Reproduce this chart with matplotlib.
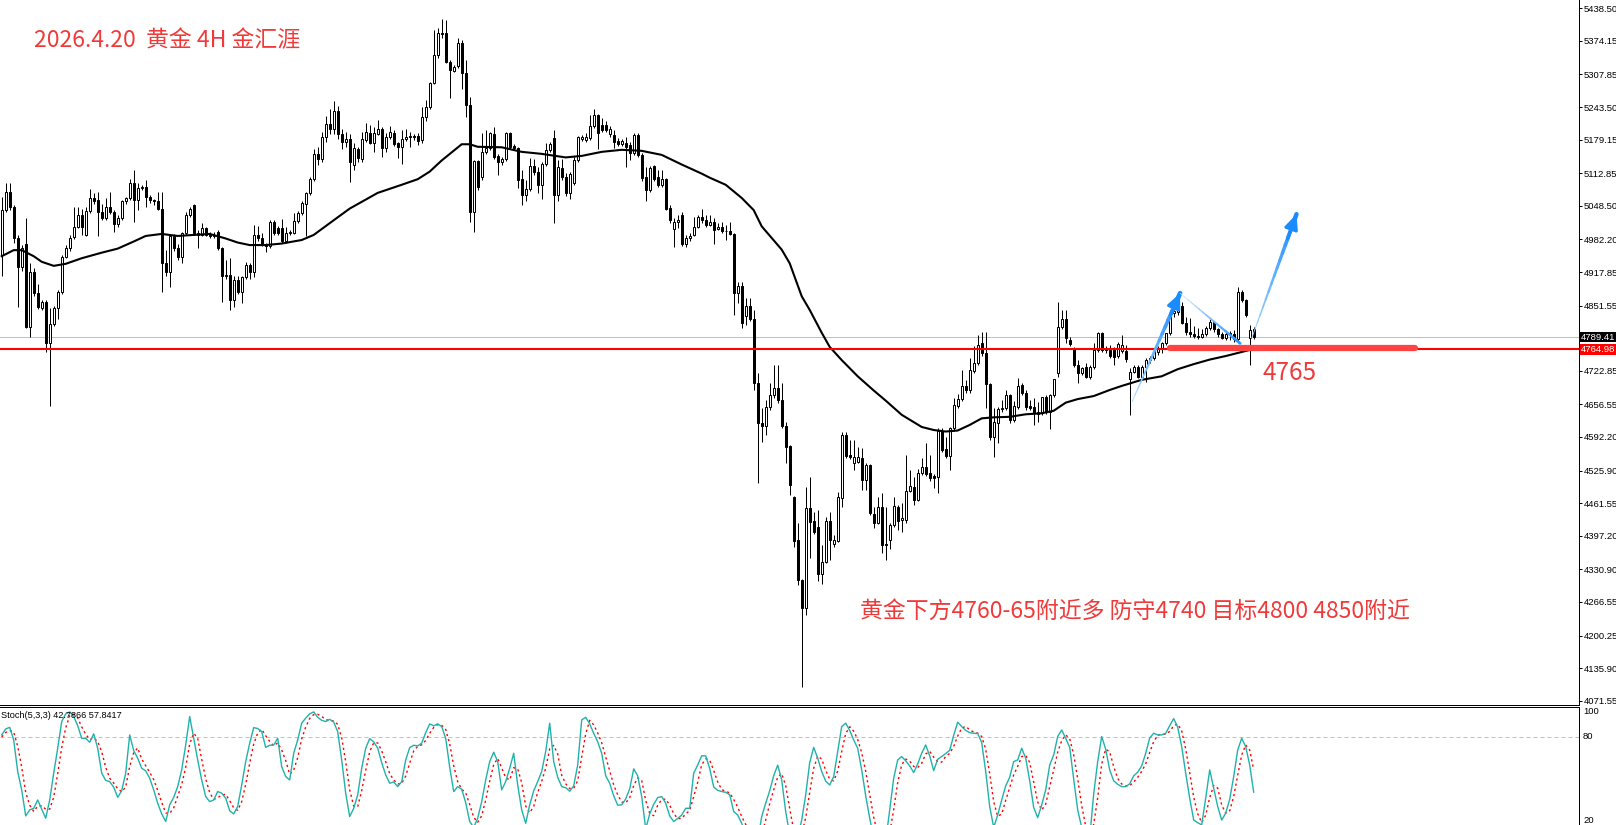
#! /usr/bin/env python3

import matplotlib
matplotlib.use("Agg")
import matplotlib.pyplot as plt
import matplotlib.transforms as mtransforms
from matplotlib.collections import LineCollection
from matplotlib.patches import Rectangle
import numpy as np

# 4H gold candles, oldest first (index = bar number)
opens = [
  4951, 5040, 5076, 5047, 4984, 4928, 4974, 4810, 4918, 4876,
  4846, 4859, 4777, 4816, 4846, 4879, 4948, 4965, 4986, 5006,
  5030, 4991, 5038, 5063, 5060, 5037, 5024, 5047, 5037, 5012,
  5024, 5057, 5063, 5093, 5060, 5083, 5085, 5066, 5060, 5057,
  5043, 4935, 4918, 4988, 4965, 4948, 4994, 5030, 5050, 4994,
  4991, 5004, 4991, 4988, 4997, 4966, 4909, 4912, 4862, 4902,
  4879, 4907, 4931, 4918, 4991, 4984, 4974, 4970, 5017, 5005,
  5005, 4980, 4995, 4995, 5019, 5034, 5053, 5073, 5102, 5150,
  5140, 5185, 5210, 5200, 5235, 5190, 5175, 5180, 5129, 5160,
  5140, 5178, 5193, 5173, 5191, 5201, 5162, 5184, 5193, 5172,
  5165, 5180, 5184, 5185, 5186, 5178, 5223, 5244, 5290, 5346,
  5390, 5389, 5333, 5315, 5324, 5369, 5310, 5247, 5037, 5136,
  5106, 5155, 5162, 5190, 5147, 5134, 5140, 5193, 5166, 5162,
  5101, 5070, 5082, 5127, 5116, 5090, 5131, 5159, 5182, 5070,
  5124, 5106, 5073, 5094, 5139, 5180, 5178, 5182, 5206, 5228,
  5208, 5208, 5190, 5188, 5177, 5170, 5173, 5168, 5152, 5188,
  5149, 5105, 5080, 5127, 5105, 5090, 5101, 5045, 5002, 5017,
  5030, 4974, 4985, 4991, 5007, 5027, 5020, 5011, 5017, 5003,
  5006, 4998, 4999, 4993, 4877, 4890, 4831, 4851, 4826, 4698,
  4620, 4614, 4651, 4675, 4688, 4665, 4614, 4574, 4473, 4389,
  4310, 4254, 4453, 4427, 4414, 4322, 4346, 4427, 4381, 4387,
  4471, 4596, 4557, 4541, 4543, 4550, 4507, 4536, 4440, 4423,
  4455, 4380, 4389, 4419, 4455, 4428, 4428, 4486, 4494, 4468,
  4522, 4532, 4522, 4515, 4513, 4605, 4568, 4555, 4609, 4653,
  4667, 4693, 4684, 4723, 4738, 4777, 4757, 4697, 4593, 4620,
  4647, 4649, 4675, 4626, 4652, 4695, 4680, 4653, 4651, 4638,
  4639, 4671, 4642, 4675, 4719, 4810, 4826, 4784, 4767, 4734,
  4718, 4730, 4711, 4730, 4763, 4798, 4767, 4764, 4764, 4752,
  4761, 4761, 4706, 4721, 4730, 4711, 4730, 4744, 4748, 4759,
  4767, 4777, 4797, 4836, 4838, 4850, 4818, 4800, 4795, 4792,
  4790, 4795, 4808, 4820, 4805, 4795, 4788, 4795, 4795, 4786,
  4879, 4862, 4788, 4806]

highs = [
  5066, 5093, 5093, 5050, 4990, 4971, 5024, 4935, 4925, 4895,
  4862, 4863, 4846, 4850, 4882, 4952, 4971, 4990, 5047, 5047,
  5043, 5047, 5081, 5073, 5076, 5053, 5063, 5076, 5040, 5030,
  5060, 5066, 5101, 5119, 5093, 5090, 5099, 5070, 5062, 5076,
  5076, 4961, 4991, 4992, 4974, 4996, 5037, 5047, 5053, 5001,
  5015, 5007, 4997, 4996, 5000, 4968, 4941, 4945, 4909, 4909,
  4910, 4938, 4935, 5011, 5009, 4994, 4976, 5020, 5020, 5008,
  5022, 5006, 5000, 5034, 5038, 5058, 5076, 5106, 5160, 5165,
  5195, 5225, 5240, 5255, 5245, 5200, 5195, 5190, 5172, 5165,
  5195, 5211, 5208, 5205, 5218, 5205, 5193, 5206, 5198, 5175,
  5198, 5201, 5195, 5190, 5193, 5244, 5257, 5292, 5395, 5399,
  5418, 5416, 5336, 5326, 5379, 5376, 5336, 5264, 5139, 5139,
  5192, 5198, 5195, 5205, 5150, 5145, 5194, 5195, 5170, 5165,
  5119, 5099, 5142, 5140, 5126, 5134, 5172, 5175, 5198, 5139,
  5140, 5114, 5116, 5145, 5187, 5188, 5193, 5228, 5239, 5230,
  5221, 5215, 5206, 5198, 5182, 5181, 5185, 5175, 5192, 5192,
  5152, 5126, 5127, 5129, 5119, 5119, 5104, 5050, 5024, 5030,
  5037, 4990, 4995, 5027, 5030, 5043, 5030, 5030, 5024, 5014,
  5017, 5011, 5017, 4995, 4899, 4899, 4866, 4866, 4843, 4718,
  4649, 4665, 4698, 4734, 4734, 4698, 4622, 4576, 4475, 4422,
  4312, 4494, 4514, 4445, 4448, 4379, 4435, 4445, 4399, 4484,
  4603, 4603, 4586, 4586, 4573, 4570, 4540, 4538, 4455, 4474,
  4481, 4455, 4422, 4474, 4458, 4461, 4557, 4527, 4514, 4530,
  4550, 4580, 4557, 4520, 4609, 4609, 4593, 4611, 4669, 4678,
  4724, 4705, 4748, 4771, 4794, 4800, 4800, 4698, 4649, 4652,
  4665, 4685, 4678, 4664, 4708, 4699, 4685, 4665, 4669, 4662,
  4672, 4675, 4678, 4706, 4859, 4843, 4843, 4790, 4770, 4744,
  4731, 4738, 4734, 4777, 4800, 4800, 4772, 4774, 4770, 4780,
  4793, 4774, 4728, 4734, 4734, 4735, 4748, 4752, 4764, 4772,
  4780, 4798, 4843, 4845, 4866, 4858, 4830, 4827, 4812, 4808,
  4805, 4812, 4825, 4822, 4808, 4800, 4800, 4802, 4803, 4889,
  4882, 4865, 4813, 4810]

lows = [
  4909, 5037, 5040, 4975, 4849, 4920, 4807, 4790, 4870, 4845,
  4843, 4760, 4653, 4812, 4826, 4875, 4945, 4960, 4982, 5004,
  4991, 4988, 5035, 5053, 4988, 5020, 5020, 5033, 4997, 5007,
  5020, 5053, 5060, 5017, 5040, 5080, 5047, 5055, 5050, 5040,
  4879, 4909, 4889, 4960, 4942, 4935, 4991, 5027, 4990, 4965,
  4988, 4988, 4984, 4984, 4962, 4859, 4905, 4843, 4849, 4875,
  4856, 4904, 4905, 4908, 4980, 4970, 4958, 4966, 4990, 4990,
  4976, 4976, 4990, 4992, 5015, 5030, 4989, 5070, 5098, 5130,
  5135, 5175, 5190, 5190, 5180, 5160, 5165, 5095, 5119, 5135,
  5135, 5175, 5170, 5155, 5188, 5145, 5155, 5180, 5166, 5142,
  5131, 5176, 5165, 5178, 5168, 5172, 5215, 5240, 5288, 5340,
  5380, 5330, 5261, 5312, 5320, 5280, 5224, 5017, 4997, 5080,
  5100, 5150, 5158, 5140, 5109, 5130, 5137, 5160, 5158, 5083,
  5050, 5057, 5078, 5110, 5073, 5061, 5128, 5155, 5014, 5057,
  5100, 5068, 5061, 5090, 5135, 5176, 5175, 5178, 5203, 5160,
  5195, 5194, 5185, 5162, 5166, 5166, 5126, 5139, 5148, 5145,
  5098, 5057, 5075, 5097, 5085, 5086, 5040, 5015, 4968, 5005,
  4970, 4968, 4980, 4988, 5005, 5015, 5007, 5008, 4974, 5000,
  4995, 4981, 4990, 4833, 4856, 4807, 4813, 4822, 4685, 4501,
  4583, 4596, 4646, 4669, 4659, 4609, 4540, 4478, 4376, 4300,
  4099, 4241, 4353, 4400, 4307, 4303, 4343, 4349, 4376, 4384,
  4455, 4550, 4548, 4527, 4540, 4488, 4488, 4438, 4412, 4420,
  4363, 4349, 4372, 4415, 4409, 4405, 4422, 4483, 4458, 4465,
  4518, 4516, 4506, 4491, 4482, 4563, 4550, 4528, 4605, 4650,
  4663, 4680, 4680, 4719, 4735, 4753, 4649, 4586, 4553, 4580,
  4642, 4645, 4620, 4622, 4648, 4676, 4645, 4645, 4616, 4622,
  4635, 4638, 4607, 4672, 4711, 4805, 4777, 4772, 4730, 4699,
  4714, 4708, 4707, 4727, 4760, 4760, 4758, 4748, 4734, 4749,
  4757, 4741, 4636, 4718, 4708, 4707, 4701, 4738, 4744, 4755,
  4757, 4773, 4793, 4830, 4833, 4815, 4793, 4790, 4788, 4786,
  4788, 4792, 4803, 4800, 4790, 4785, 4783, 4783, 4780, 4781,
  4858, 4830, 4735, 4785]

closes = [
  5040, 5076, 5047, 4984, 4927, 4965, 4810, 4918, 4876, 4849,
  4859, 4777, 4816, 4846, 4879, 4948, 4965, 4985, 5006, 5030,
  5006, 5038, 5063, 5057, 5037, 5024, 5047, 5037, 5012, 5024,
  5057, 5063, 5093, 5060, 5083, 5085, 5066, 5060, 5057, 5043,
  4935, 4918, 4988, 4965, 4948, 4994, 5030, 5043, 4994, 4991,
  5004, 4991, 4988, 4991, 4966, 4909, 4912, 4862, 4902, 4879,
  4907, 4931, 4918, 4991, 4984, 4974, 4970, 5017, 4994, 4994,
  4980, 4995, 4997, 5019, 5035, 5055, 5074, 5102, 5150, 5140,
  5185, 5210, 5200, 5235, 5190, 5175, 5180, 5135, 5162, 5142,
  5180, 5195, 5173, 5193, 5201, 5162, 5185, 5195, 5170, 5164,
  5180, 5184, 5185, 5184, 5177, 5223, 5244, 5290, 5346, 5389,
  5387, 5333, 5316, 5323, 5369, 5310, 5247, 5037, 5136, 5086,
  5155, 5162, 5192, 5145, 5134, 5140, 5192, 5165, 5162, 5099,
  5070, 5082, 5127, 5116, 5090, 5132, 5159, 5170, 5070, 5126,
  5106, 5073, 5112, 5138, 5185, 5185, 5184, 5206, 5228, 5192,
  5199, 5198, 5200, 5175, 5170, 5177, 5165, 5152, 5188, 5149,
  5103, 5080, 5124, 5101, 5090, 5101, 5043, 5020, 5017, 5020,
  4974, 4985, 4988, 5007, 5027, 5020, 5011, 5017, 5001, 5007,
  4998, 4999, 4993, 4877, 4890, 4817, 4851, 4826, 4698, 4620,
  4614, 4651, 4675, 4688, 4665, 4614, 4573, 4497, 4386, 4310,
  4254, 4453, 4425, 4405, 4322, 4346, 4427, 4389, 4389, 4473,
  4596, 4555, 4552, 4552, 4552, 4507, 4536, 4442, 4423, 4455,
  4379, 4379, 4419, 4456, 4427, 4432, 4486, 4495, 4468, 4522,
  4532, 4520, 4511, 4511, 4605, 4567, 4555, 4609, 4655, 4667,
  4692, 4684, 4724, 4739, 4774, 4757, 4697, 4593, 4622, 4647,
  4649, 4675, 4626, 4653, 4693, 4680, 4651, 4649, 4639, 4642,
  4671, 4642, 4675, 4706, 4810, 4826, 4787, 4776, 4734, 4718,
  4728, 4711, 4730, 4763, 4798, 4764, 4764, 4752, 4751, 4776,
  4774, 4747, 4721, 4730, 4711, 4730, 4744, 4748, 4761, 4767,
  4777, 4797, 4836, 4840, 4850, 4818, 4800, 4795, 4792, 4790,
  4795, 4808, 4820, 4805, 4795, 4788, 4795, 4798, 4786, 4879,
  4862, 4833, 4804, 4789.41]

# moving average (black curve), read at a few bars along its length
ma_bar = [0, 3, 5, 8, 10, 13, 16, 20, 25, 29, 33, 36, 40, 44, 48, 52, 56, 59,
          62, 66, 70, 75, 78, 83, 87, 94, 100, 104, 107, 110, 115, 117, 119,
          125, 130, 135, 141, 145, 150, 155, 160, 165, 170, 175, 177, 181, 185,
          188, 190, 195, 197, 200, 202, 205, 207, 210, 214, 218, 221, 225, 230,
          233, 236, 239, 242, 245, 248, 252, 256, 260, 263, 266, 269, 273, 277,
          280, 285, 290, 294, 298, 302, 306, 310, 313]
ma_price = [4949, 4961, 4961, 4949, 4938, 4930, 4934, 4945, 4956, 4964, 4978,
            4989, 4993, 4989, 4991, 4993, 4984, 4976, 4971, 4971, 4974, 4981,
            4991, 5020, 5043, 5074, 5090, 5101, 5116, 5138, 5170, 5170, 5165,
            5164, 5155, 5151, 5144, 5147, 5155, 5159, 5157, 5149, 5130, 5112,
            5104, 5090, 5064, 5040, 5008, 4962, 4935, 4870, 4843, 4798, 4770,
            4744, 4712, 4684, 4664, 4636, 4612, 4606, 4603, 4605, 4616, 4629,
            4631, 4632, 4637, 4639, 4644, 4660, 4667, 4673, 4685, 4693, 4705,
            4712, 4726, 4736, 4745, 4752, 4760, 4766]

# Stoch(5,3,3): main line (teal) and signal line (red dots), one value per bar
stoch_main = [
  81.4, 85.4, 86.5, 78.0, 56.7, 44.3, 26.8, 30.8, 31.9, 37.5,
  31.3, 25.2, 37.5, 55.6, 72.4, 90.4, 95.6, 96.9, 93.8, 87.6,
  79.1, 79.1, 76.4, 82.1, 72.4, 55.6, 50.7, 49.9, 46.1, 39.3,
  43.7, 55.6, 81.4, 70.8, 65.7, 58.9, 57.1, 52.2, 44.3, 35.3,
  28.1, 23.0, 34.2, 39.3, 46.5, 57.8, 74.6, 93.8, 79.1, 64.5,
  51.0, 39.8, 36.4, 37.5, 43.2, 42.1, 38.7, 30.2, 28.1, 33.1,
  47.6, 63.4, 75.8, 86.3, 85.7, 83.6, 73.0, 74.4, 74.6, 79.1,
  60.0, 53.3, 51.0, 69.0, 78.0, 89.3, 92.7, 95.6, 96.9, 93.3,
  91.2, 90.4, 91.9, 90.0, 83.6, 64.5, 42.1, 26.3, 31.9, 40.9,
  58.9, 72.4, 78.9, 76.7, 72.4, 62.7, 54.4, 48.8, 49.7, 46.5,
  49.9, 64.5, 72.8, 74.4, 74.0, 75.8, 82.9, 88.8, 87.5, 88.8,
  87.0, 79.1, 59.6, 43.2, 46.5, 44.7, 35.7, 23.0, 19.0, 25.2,
  36.4, 51.0, 63.4, 69.7, 63.4, 44.3, 49.9, 58.9, 69.0, 47.6,
  30.8, 21.8, 34.2, 43.7, 49.9, 56.7, 70.2, 89.3, 63.4, 52.8,
  46.5, 45.8, 43.4, 47.0, 61.1, 91.5, 93.3, 88.8, 82.5, 76.7,
  69.0, 53.8, 48.8, 40.3, 34.0, 34.2, 38.2, 45.0, 58.5, 53.8,
  39.8, 18.0, 28.1, 34.6, 39.1, 39.8, 35.3, 26.8, 23.0, 25.0,
  27.4, 31.9, 31.9, 55.6, 61.1, 67.3, 67.3, 58.7, 46.3, 44.0,
  43.2, 42.7, 41.1, 29.7, 27.4, 21.8, 14.0, 10.0, 7.0, 10.0,
  26.3, 35.3, 43.7, 53.9, 61.0, 51.0, 29.7, 14.0, 8.0, 12.0,
  24.0, 40.9, 62.7, 73.0, 65.7, 56.7, 50.2, 47.6, 53.3, 70.2,
  87.0, 89.3, 84.4, 78.0, 72.4, 57.8, 40.3, 25.2, 12.0, 7.0,
  5.0, 10.0, 30.8, 52.2, 64.5, 66.8, 63.9, 60.5, 56.0, 61.8,
  69.0, 74.6, 67.3, 57.3, 65.0, 66.8, 68.8, 71.0, 81.1, 90.0,
  87.0, 84.4, 82.9, 82.5, 82.3, 76.2, 56.7, 33.1, 19.0, 27.4,
  37.5, 47.0, 52.8, 63.4, 64.5, 72.4, 65.7, 50.4, 32.4, 25.6,
  34.2, 44.3, 61.1, 67.9, 80.3, 84.7, 79.1, 73.0, 51.5, 30.8,
  19.0, 10.0, 12.0, 41.6, 63.4, 80.3, 71.7, 57.8, 50.4, 48.1,
  46.5, 46.5, 48.4, 53.8, 56.2, 60.5, 69.0, 79.3, 82.5, 81.4,
  81.4, 82.5, 87.6, 92.4, 86.5, 73.5, 55.6, 38.7, 24.0, 22.2,
  20.7, 38.7, 57.8, 45.5, 33.1, 24.0, 28.6, 38.0, 53.3, 71.2,
  79.1, 73.5, 61.1, 42.8]

stoch_signal = [
  80.0, 83.0, 84.4, 83.3, 73.7, 59.7, 42.6, 34.0, 29.8, 33.4,
  33.6, 31.3, 31.3, 39.4, 55.2, 72.8, 86.1, 94.3, 95.4, 92.8,
  86.8, 81.9, 78.2, 79.2, 77.0, 70.0, 59.6, 52.1, 48.9, 45.1,
  43.0, 46.2, 60.2, 69.3, 72.6, 65.1, 60.6, 56.1, 51.2, 43.9,
  35.9, 28.8, 28.4, 32.2, 40.0, 47.9, 59.6, 75.4, 82.5, 79.1,
  64.9, 51.8, 42.4, 37.9, 39.0, 40.9, 41.3, 37.0, 32.3, 30.5,
  36.3, 48.0, 62.3, 75.2, 82.6, 85.2, 80.8, 77.0, 74.0, 76.0,
  71.2, 64.1, 54.8, 57.8, 66.0, 78.8, 86.7, 92.5, 95.1, 95.3,
  93.8, 91.6, 91.2, 90.8, 88.5, 79.4, 63.4, 44.3, 33.4, 33.0,
  43.9, 57.4, 70.1, 76.0, 76.0, 70.6, 63.2, 55.3, 51.0, 48.3,
  48.7, 53.6, 62.4, 70.6, 73.7, 74.7, 77.6, 82.5, 86.4, 88.4,
  87.8, 85.0, 75.2, 60.6, 49.8, 44.8, 42.3, 34.5, 25.9, 22.4,
  26.9, 37.5, 50.3, 61.4, 65.5, 59.1, 52.5, 51.0, 59.3, 58.5,
  49.1, 33.4, 28.9, 33.2, 42.6, 50.1, 58.9, 72.1, 74.3, 68.5,
  54.2, 48.4, 45.2, 45.4, 50.5, 66.5, 82.0, 91.2, 88.2, 82.7,
  76.1, 66.5, 57.2, 47.6, 41.0, 36.2, 35.5, 39.1, 47.2, 52.4,
  50.7, 37.2, 28.6, 26.9, 33.9, 37.8, 38.1, 34.0, 28.4, 24.9,
  25.1, 28.1, 30.4, 39.8, 49.5, 61.3, 65.2, 64.4, 57.4, 49.7,
  44.5, 43.3, 42.3, 37.8, 32.7, 26.3, 21.1, 15.3, 10.3, 9.0,
  14.4, 23.9, 35.1, 44.3, 52.9, 55.3, 47.2, 31.6, 17.2, 11.3,
  14.7, 25.6, 42.5, 58.9, 67.1, 65.1, 57.5, 51.5, 50.4, 57.0,
  70.2, 82.2, 86.9, 83.9, 78.3, 69.4, 56.8, 41.1, 25.8, 14.7,
  8.0, 7.3, 15.3, 31.0, 49.2, 61.2, 65.1, 63.7, 60.1, 59.4,
  62.3, 68.5, 70.3, 66.4, 63.2, 63.0, 66.9, 68.9, 73.6, 80.7,
  86.0, 87.1, 84.8, 83.3, 82.6, 80.3, 71.7, 55.3, 36.3, 26.5,
  28.0, 37.3, 45.8, 54.4, 60.2, 66.8, 67.5, 62.8, 49.5, 36.1,
  30.7, 34.7, 46.5, 57.8, 69.8, 77.6, 81.4, 78.9, 67.9, 51.8,
  33.8, 19.9, 13.7, 21.2, 39.0, 61.8, 71.8, 69.9, 60.0, 52.1,
  48.3, 47.0, 47.1, 49.6, 52.8, 56.8, 61.9, 69.6, 76.9, 81.1,
  81.8, 81.8, 83.8, 87.5, 88.8, 84.1, 71.9, 55.9, 39.4, 28.3,
  22.3, 27.2, 39.1, 47.3, 45.5, 34.2, 28.6, 30.2, 40.0, 54.2,
  67.9, 74.6, 71.2, 57.8]

price_ticks = [5438.50, 5374.15, 5307.85, 5243.50, 5179.15, 5112.85, 5048.50,
               4982.20, 4917.85, 4851.55, 4722.85, 4656.55, 4592.20, 4525.90,
               4461.55, 4397.20, 4330.90, 4266.55, 4200.25, 4135.90, 4071.55]
last_price = 4789.41
support_price = 4764.98
stoch_levels = [100, 80, 20]

title = "2026.4.20  黄金 4H 金汇涯"
plan = "黄金下方4760-65附近多 防守4740 目标4800 4850附近"
stoch_title = "Stoch(5,3,3) 42.7866 57.8417"

# hand drawn marks: (bar, price) of start and end
zone_bar = [(292.0, 4767), (353.4, 4767)]
arrow_up_1 = [(282.6, 4662), (294.6, 4876)]
arrow_down = [(294.6, 4876), (309.6, 4777)]
arrow_up_2 = [(312.5, 4787), (323.7, 5032)]
label_4765 = (315.3, 4719)
plan_pos = (214.6, 4249)

W, H = 1616, 825
PX = 0.72  # one screen pixel in points at dpi 100
CJK = ['Noto Sans CJK SC', 'DejaVu Sans']
RED_TEXT = '#f03a3a'
BLUE = '#1a8cff'
SCALE_SIZE = 6.8

plt.rcParams['font.family'] = ['Liberation Sans', 'DejaVu Sans']


def tapered(ax, p0, p1, w0, w1, c0, c1, n=16):
  # one pen stroke that thickens and darkens towards p1
  xs = np.linspace(p0[0], p1[0], n + 1)
  ys = np.linspace(p0[1], p1[1], n + 1)
  segs = [[(xs[k], ys[k]), (xs[k + 1], ys[k + 1])] for k in range(n)]
  t = np.linspace(0, 1, n)
  a = np.array(matplotlib.colors.to_rgb(c0))
  b = np.array(matplotlib.colors.to_rgb(c1))
  cols = [tuple(a + (b - a) * s) for s in t]
  lc = LineCollection(segs, linewidths=w0 + (w1 - w0) * t, colors=cols,
                      capstyle='round', zorder=7)
  ax.add_collection(lc)


def arrow_head(ax, p0, p1, color):
  mid = (p0[0] + (p1[0] - p0[0]) * 0.8, p0[1] + (p1[1] - p0[1]) * 0.8)
  ax.annotate('', xy=p1, xytext=mid,
              arrowprops=dict(arrowstyle='-|>,head_length=0.55,head_width=0.25',
                              color=color, lw=2.2, mutation_scale=16,
                              shrinkA=0, shrinkB=0), zorder=8)


fig = plt.figure(figsize=(W / 100, H / 100), dpi=100)
fig.patch.set_facecolor('white')

plot_w = 1579 / W
main_bottom = 704.5
ax = fig.add_axes([0, 1 - main_bottom / H, plot_w, main_bottom / H])
ax2 = fig.add_axes([0, 0, plot_w, (H - 707) / H])

n = len(closes)
x = np.arange(n)
o = np.array(opens, dtype=float)
c = np.array(closes, dtype=float)
hi = np.array(highs, dtype=float)
lo = np.array(lows, dtype=float)
up = c >= o
body_lo = np.minimum(o, c)
body_h = np.maximum(np.abs(c - o), 1.5)

ax.axhline(last_price, color='#c0c0c0', lw=PX, zorder=1)
ax.vlines(x, lo, hi, color='black', lw=PX, zorder=2)
ax.bar(x[up], body_h[up], bottom=body_lo[up], width=0.5, color='white',
       edgecolor='black', linewidth=PX, zorder=3)
ax.bar(x[~up], body_h[~up], bottom=body_lo[~up], width=0.5, color='black',
       edgecolor='black', linewidth=PX, zorder=3)
ax.plot(ma_bar, ma_price, color='black', lw=1.5, zorder=4)
ax.axhline(support_price, color='#ff0000', lw=1.5, zorder=5)

(zx0, zy0), (zx1, zy1) = zone_bar
ax.plot([zx0, zx1], [zy0, zy1], color='#ff4343', lw=4.5,
        solid_capstyle='round', zorder=6)

tapered(ax, arrow_up_1[0], arrow_up_1[1], 0.6, 3.4, '#a9d6ff', BLUE)
arrow_head(ax, arrow_up_1[0], arrow_up_1[1], BLUE)
tapered(ax, arrow_down[0], arrow_down[1], 0.5, 2.0, '#cfe8ff', '#2f97ff')
tapered(ax, arrow_up_2[0], arrow_up_2[1], 0.6, 3.2, '#a9d6ff', BLUE)
arrow_head(ax, arrow_up_2[0], arrow_up_2[1], BLUE)

ax.set_xlim(-0.425, 1579 / 4 - 0.425)
ax.set_ylim(5454.7 - 1.9737 * main_bottom, 5454.7)
ax.set_xticks([])
ax.yaxis.tick_right()
ax.set_yticks(price_ticks, labels=['%.2f' % v for v in price_ticks])
ax.tick_params(axis='y', direction='out', length=2.5, width=PX, pad=1.2,
               labelsize=SCALE_SIZE, colors='black')
for side in ['top', 'left']:
  ax.spines[side].set_visible(False)
for side in ['right', 'bottom']:
  ax.spines[side].set_linewidth(PX)
  ax.spines[side].set_color('black')

# price boxes on the scale
edge = mtransforms.blended_transform_factory(ax.transAxes, ax.transData)
for price, face in [(last_price, 'black'), (support_price, '#ff0000')]:
  ax.add_patch(Rectangle((1.0006, price - 10.6), 0.03, 21.2, transform=edge,
                         facecolor=face, edgecolor='none', clip_on=False,
                         zorder=9))
  ax.text(1 + 2 / 1579, price, '%.2f' % price, transform=edge, color='white',
          fontsize=SCALE_SIZE, va='center', ha='left', zorder=10,
          clip_on=False)

ax.text(34 / 1579, 1 - 41 / main_bottom, title, transform=ax.transAxes,
        color=RED_TEXT, fontsize=16.5, family=CJK, va='center', ha='left')
ax.text(plan_pos[0], plan_pos[1], plan, color=RED_TEXT, fontsize=16.5,
        family=CJK, va='center', ha='left')
ax.text(label_4765[0], label_4765[1], '4765', color=RED_TEXT, fontsize=17.5,
        family=CJK, va='center', ha='left')

# stochastic window
ax2.plot(x, stoch_main, color='#20b2aa', lw=1.0, zorder=3)
ax2.plot(x, stoch_signal, color='#ff0000', lw=1.0, ls=(0, (1.6, 2.2)),
         zorder=2)
ax2.axhline(80, color='#c0c0c0', lw=PX, ls=(0, (4, 3)), zorder=1)
ax2.set_xlim(ax.get_xlim())
ax2.set_ylim(100 - (H - 707.3) / 1.483, 100 + 0.3 / 1.483)
ax2.set_xticks([])
ax2.set_yticks([])
for side in ['bottom', 'left']:
  ax2.spines[side].set_visible(False)
for side in ['right', 'top']:
  ax2.spines[side].set_linewidth(PX)
  ax2.spines[side].set_color('black')

edge2 = mtransforms.blended_transform_factory(ax2.transAxes, ax2.transData)
ymin = ax2.get_ylim()[0]
for lvl in stoch_levels:
  # the lowest level sits at the window edge, so keep its label inside
  ypos = max(lvl, ymin + 0.3)
  va = 'top' if lvl == 100 else ('bottom' if lvl < ymin + 5 else 'center')
  ax2.text(1 + 4 / 1579, ypos, str(lvl), transform=edge2, fontsize=SCALE_SIZE,
           va=va, ha='left', clip_on=False)

fig.text(1 / W, 1 - 715 / H, stoch_title, fontsize=6.6, va='center',
         ha='left', color='black')

fig.savefig('out.png', dpi=100)
